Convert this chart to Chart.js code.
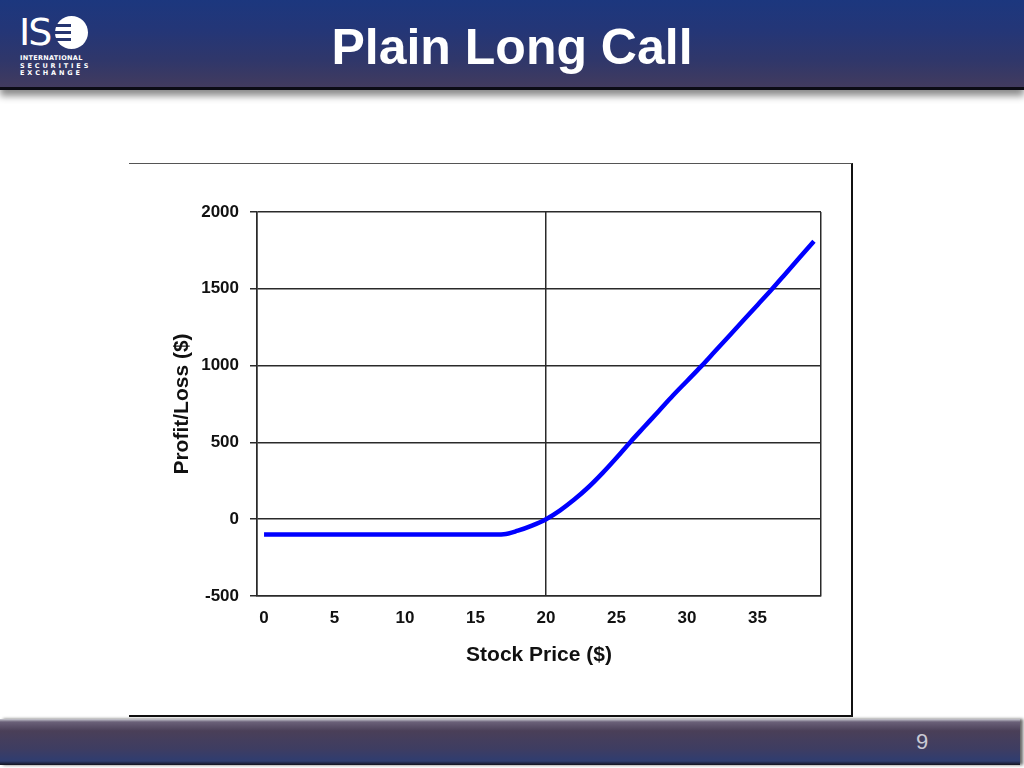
<!DOCTYPE html>
<html>
<head>
<meta charset="utf-8">
<script src="https://cdn.jsdelivr.net/npm/chart.js@4/dist/chart.umd.min.js"></script>
<style>
  html, body { margin: 0; padding: 0; background: #fff; }
  body { width: 1024px; height: 768px; position: relative; overflow: hidden; font-family: "Liberation Sans", Arial, sans-serif; }
  #header { position: absolute; left: 0; top: 0; width: 1024px; height: 87px;
    background: linear-gradient(to bottom, #1c377e 0%, #243677 35%, #30376a 70%, #423b5e 100%);
    border-bottom: 3px solid #0c0c14;
    box-shadow: 0 6px 7px rgba(0,0,0,0.45); }
  #title { position: absolute; left: 0; width: 1024px; top: 18px; text-align: center; color: #fff;
    font: bold 50px "Liberation Sans", Arial, sans-serif; line-height: 58px; }
  #logo { position: absolute; left: 19px; top: 12px; width: 90px; height: 66px; color: #fff; }
  #logo .ise { position: absolute; left: 0; top: 0; font: 38px "DejaVu Sans", sans-serif; letter-spacing: -2px; line-height: 40px; }
  #logo .circ { position: absolute; left: 36px; top: 4px; width: 33px; height: 33px; border-radius: 50%; background: #fff; }
  #logo .bar { position: absolute; height: 3px; background: #263570; left: 36px; width: 16px; }
  #logo .small { position: absolute; left: 1px; top: 43px; font: bold 6.5px "DejaVu Sans", sans-serif; line-height: 7.5px; letter-spacing: 0.3px; white-space: nowrap; }
  #box { position: absolute; left: 129px; top: 163px; width: 722px; height: 551px;
    border-top: 1px solid #555; border-right: 2px solid #111; border-bottom: 2px solid #111; }
  #wrap { position: absolute; left: 129px; top: 164px; width: 722px; height: 550px; }
  #footer { position: absolute; left: 0; top: 719px; width: 1020px; height: 46px;
    background: linear-gradient(to bottom, #c8c8d0 0px, #6a6078 3px, #4a3f58 12px, #3e3d62 30px, #2f3d70 42px, #141420 46px);
    box-shadow: 3px 0 3px rgba(0,0,0,0.6); }
  #page { position: absolute; left: 912px; top: 729px; width: 20px; text-align: center; color: #c9c9d4;
    font: 22px "Liberation Sans", Arial, sans-serif; line-height: 26px; }
</style>
</head>
<body>
<div id="header">
  <div id="logo">
    <div class="ise">IS</div>
    <div class="circ"></div>
    <div class="bar" style="top:12px"></div>
    <div class="bar" style="top:19px"></div>
    <div class="bar" style="top:26px"></div>
    <div class="small">INTERNATIONAL<br>S E C U R I T I E S<br>E X C H A N G E</div>
  </div>
  <div id="title">Plain Long Call</div>
</div>
<div id="box"></div>
<div id="wrap"><canvas id="c" width="722" height="550"></canvas></div>
<div id="footer"></div>
<div id="page">9</div>
<script>
// ---- data ----
const stockPrices = [0,1,2,3,4,5,6,7,8,9,10,11,12,13,14,15,16,17,18,19,20,21,22,23,24,25,26,27,28,29,30,31,32,33,34,35,36,37,38,39];
const profitLoss  = [-100,-100,-100,-100,-100,-100,-100,-100,-100,-100,-100,-100,-100,-100,-100,-100,-100,-98,-75,-42,0,58,128,208,300,400,505,605,705,805,900,995,1095,1195,1295,1395,1495,1600,1705,1810];
const xTickLabels = [0,5,10,15,20,25,30,35];
const yTickLabels = [-500,0,500,1000,1500,2000];
const xMarkerLine = 20;
const xTitle = 'Stock Price ($)';
const yTitle = 'Profit/Loss ($)';

const xMin = -0.5, xMax = 39.5;
const points = stockPrices.map((x, i) => ({x: x, y: profitLoss[i]}));
const tickFont = {family: '"Liberation Sans", Arial, sans-serif', weight: 'bold', size: 17};
const titleFont = {family: '"Liberation Sans", Arial, sans-serif', weight: 'bold', size: 21};

new Chart(document.getElementById('c'), {
  type: 'line',
  data: { datasets: [{
    data: points,
    borderColor: '#0000ff',
    borderWidth: 4.5,
    pointRadius: 0,
    cubicInterpolationMode: 'monotone',
    fill: false
  }]},
  options: {
    responsive: false,
    animation: false,
    events: [],
    layout: { padding: { top: 48, right: 30, left: 0, bottom: 0 } },
    plugins: { legend: { display: false }, tooltip: { enabled: false } },
    scales: {
      x: {
        type: 'linear', min: xMin, max: xMax,
        afterBuildTicks: (s) => { s.ticks = [xMin].concat(xTickLabels, [xMax]).map(v => ({value: v})); },
        afterFit: (s) => { s.height = 118; },
        ticks: { autoSkip: false, maxRotation: 0, color: '#111', font: tickFont, padding: 12,
          callback: (v) => xTickLabels.includes(v) ? String(v) : '' },
        grid: { drawTicks: false, lineWidth: 1.5,
          color: (ctx) => (ctx.tick && (ctx.tick.value === xMarkerLine || ctx.tick.value === xMin || ctx.tick.value === xMax)) ? '#2a2a2a' : 'rgba(0,0,0,0)' },
        border: { display: true, color: '#2a2a2a', width: 1.5 },
        title: { display: true, text: xTitle, color: '#111', font: titleFont, padding: { top: 0, bottom: 46 } }
      },
      y: {
        min: -500, max: 2000,
        afterBuildTicks: (s) => { s.ticks = yTickLabels.map(v => ({value: v})); },
        afterFit: (s) => { s.width = 128; },
        ticks: { color: '#111', font: tickFont, padding: 11, callback: (v) => String(v) },
        grid: { color: '#2a2a2a', lineWidth: 1.5, tickLength: 7 },
        border: { display: true, color: '#2a2a2a', width: 1.5 },
        title: { display: true, text: yTitle, color: '#111', font: titleFont, padding: { top: 41, bottom: 0 } }
      }
    }
  }
});
</script>
</body>
</html>
